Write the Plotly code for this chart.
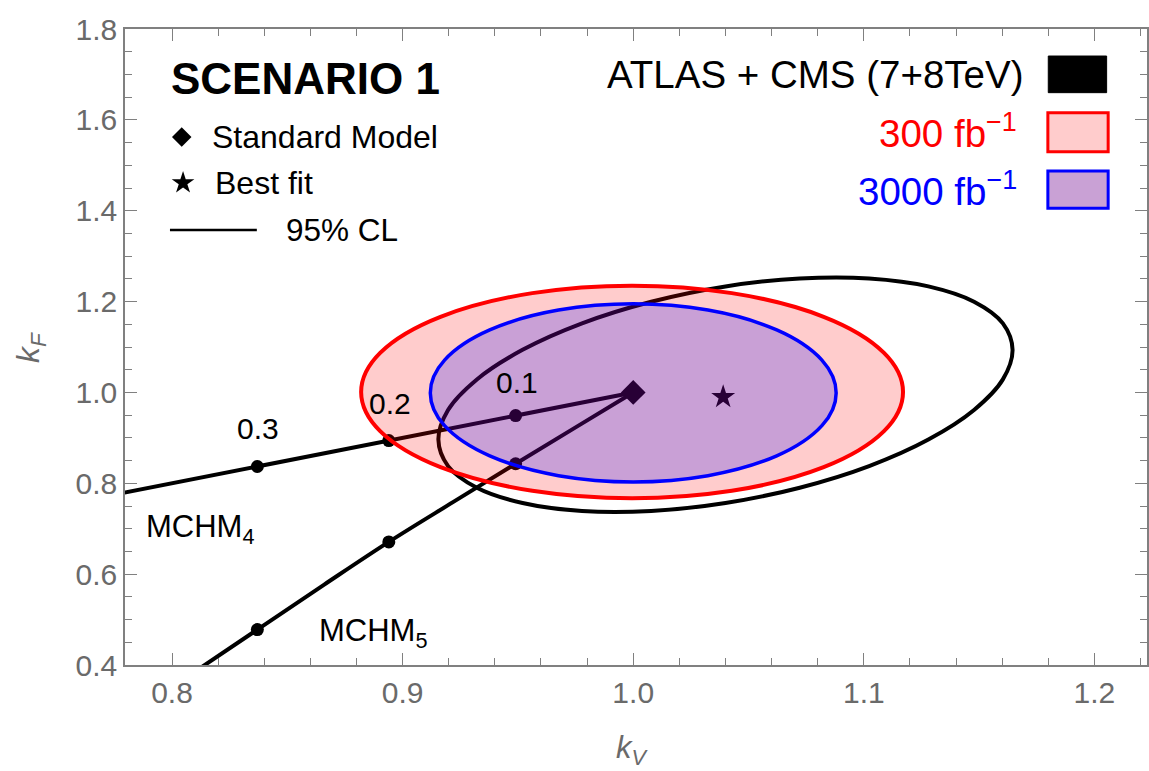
import plotly.graph_objects as go

# ---------------- data ----------------
# MCHM4 trajectory (kV, kF)
kv_mchm4 = [1.0, 0.949, 0.894, 0.837, 0.775]
kf_mchm4 = [1.0, 0.949, 0.894, 0.837, 0.775]
# MCHM5 trajectory (kV, kF)
kv_mchm5 = [1.0, 0.975, 0.949, 0.922, 0.894, 0.866, 0.837, 0.806]
kf_mchm5 = [1.0, 0.923, 0.843, 0.759, 0.671, 0.577, 0.478, 0.372]
# xi marker points
xi_labels = ["0.1", "0.2", "0.3"]
kv4_pts = [0.949, 0.894, 0.837]
kf4_pts = [0.949, 0.894, 0.837]
kv5_pts = [0.949, 0.894, 0.837]
kf5_pts = [0.843, 0.671, 0.478]
# Standard model and best fit
sm_kv, sm_kf = [1.0], [1.0]
best_kv, best_kf = [1.039], [0.990]
# ATLAS+CMS 95% CL contour
atlas_kv = [1.1645, 1.1603, 1.1478, 1.1280, 1.1023, 1.0722, 1.0400, 1.0078,
            0.9778, 0.9520, 0.9322, 0.9197, 0.9155, 0.9197, 0.9322, 0.9520,
            0.9778, 1.0078, 1.0400, 1.0722, 1.1023, 1.1280, 1.1478, 1.1603, 1.1645]
atlas_kf = [1.0938, 1.1521, 1.1998, 1.2335, 1.2509, 1.2509, 1.2334, 1.1997,
            1.1521, 1.0937, 1.0286, 0.9613, 0.8962, 0.8379, 0.7902, 0.7565,
            0.7391, 0.7391, 0.7566, 0.7903, 0.8379, 0.8963, 0.9614, 1.0287, 1.0938]
# projected 95% CL regions (kV extent, kF extent)
red_kv = [0.882, 1.117]
red_kf = [0.767, 1.235]
blue_kv = [0.912, 1.088]
blue_kf = [0.803, 1.195]

# axis ranges
x_range = [0.7796, 1.2228]
y_range = [0.4, 1.8]

FONT = "Liberation Sans, Arial, Helvetica, sans-serif"
GRAY = "#6a6a6a"
AXC = "#808080"

fig = go.Figure()

# MCHM lines
fig.add_trace(go.Scatter(x=kv_mchm4, y=kf_mchm4, mode="lines",
                         line=dict(color="black", width=4)))
fig.add_trace(go.Scatter(x=kv_mchm5, y=kf_mchm5, mode="lines",
                         line=dict(color="black", width=4, shape="spline")))
# ATLAS + CMS contour
fig.add_trace(go.Scatter(x=atlas_kv, y=atlas_kf, mode="lines",
                         line=dict(color="black", width=4, shape="spline")))
# xi points
fig.add_trace(go.Scatter(x=kv4_pts, y=kf4_pts, mode="markers",
                         marker=dict(color="black", size=13)))
fig.add_trace(go.Scatter(x=kv5_pts, y=kf5_pts, mode="markers",
                         marker=dict(color="black", size=13)))
# SM and best fit
fig.add_trace(go.Scatter(x=sm_kv, y=sm_kf, mode="markers",
                         marker=dict(color="black", size=19, symbol="diamond")))
fig.add_trace(go.Scatter(x=best_kv, y=best_kf, mode="markers",
                         marker=dict(color="black", size=18, symbol="star")))

# projected regions, drawn above (translucent) like the original
fig.add_shape(type="circle", xref="x", yref="y",
              x0=red_kv[0], x1=red_kv[1], y0=red_kf[0], y1=red_kf[1],
              fillcolor="rgba(255,0,0,0.2)", line=dict(color="#ff0000", width=4),
              layer="above")
fig.add_shape(type="circle", xref="x", yref="y",
              x0=blue_kv[0], x1=blue_kv[1], y0=blue_kf[0], y1=blue_kf[1],
              fillcolor="rgba(0,0,255,0.21)", line=dict(color="#0000ff", width=3.5),
              layer="above")

# legend (upper-left) on an overlay axis in plot-fraction units
fig.add_trace(go.Scatter(x=[0.0555], y=[0.830], mode="markers", xaxis="x2", yaxis="y2",
                         marker=dict(color="black", size=15, symbol="diamond")))
fig.add_trace(go.Scatter(x=[0.0568], y=[0.758], mode="markers", xaxis="x2", yaxis="y2",
                         marker=dict(color="black", size=17, symbol="star")))
fig.add_trace(go.Scatter(x=[0.044, 0.129], y=[0.684, 0.684], mode="lines", xaxis="x2", yaxis="y2",
                         line=dict(color="black", width=2.5)))

ann = []
def A(text, x, y, size, color="black", xanchor="center", xref="x", yref="y", yanchor="middle",
      textangle=0):
    ann.append(dict(text=text, x=x, y=y, xref=xref, yref=yref, showarrow=False,
                    xanchor=xanchor, yanchor=yanchor, textangle=textangle,
                    font=dict(family=FONT, size=size, color=color)))

A("<b>SCENARIO 1</b>", 0.0430, 0.9225, 44, xanchor="left", xref="paper", yref="paper")
A("Standard Model", 0.0835, 0.830, 32, xanchor="left", xref="paper", yref="paper")
A("Best fit", 0.0865, 0.758, 32, xanchor="left", xref="paper", yref="paper")
A("95% CL", 0.1560, 0.684, 31.5, xanchor="left", xref="paper", yref="paper")

A("ATLAS + CMS (7+8TeV)", 0.8820, 0.9277, 38.5, xanchor="right", xref="paper", yref="paper")
A("300 fb<sup>−1</sup>", 0.8750, 0.840, 38.5, color="#ff0000", xanchor="right", xref="paper", yref="paper")
A("3000 fb<sup>−1</sup>", 0.8750, 0.749, 38.5, color="#0000ff", xanchor="right", xref="paper", yref="paper")

# xi labels
A(xi_labels[0], 0.9495, 1.0226, 30)
A(xi_labels[1], 0.8945, 0.975, 30)
A(xi_labels[2], 0.8374, 0.920, 30)
A("MCHM<sub>4</sub>", 0.7880, 0.700, 31, xanchor="left")
A("MCHM<sub>5</sub>", 0.8628, 0.470, 31, xanchor="left")

# axis titles
A("<i>k<sub>V</sub></i>", 0.4965, -0.1340, 31, color=GRAY, xref="paper", yref="paper")
A("<i>k<sub>F</sub></i>", -0.0930, 0.5, 32, color=GRAY, xref="paper", yref="paper", textangle=-90)

fig.update_layout(annotations=ann)

# legend boxes (upper-right)
fig.add_shape(type="rect", xref="paper", yref="paper", x0=0.9034, x1=0.9605, y0=0.8999, y1=0.9575,
              fillcolor="black", line=dict(color="black", width=1))
fig.add_shape(type="rect", xref="paper", yref="paper", x0=0.9030, x1=0.9620, y0=0.8071, y1=0.8684,
              fillcolor="#ffcccc", line=dict(color="#ff0000", width=3))
fig.add_shape(type="rect", xref="paper", yref="paper", x0=0.9030, x1=0.9620, y0=0.7181, y1=0.7767,
              fillcolor="#c9a1d5", line=dict(color="#0000ff", width=3))

axis_common = dict(showgrid=False, zeroline=False, showline=True, linecolor=AXC, linewidth=1.5,
                   mirror="allticks", ticks="inside", ticklen=12, tickwidth=1.3, tickcolor=AXC,
                   tickfont=dict(family=FONT, size=30, color=GRAY), tickformat=".1f",
                   automargin=False)

fig.update_layout(
    width=1149, height=771,
    margin=dict(l=125, r=2, t=29, b=106, autoexpand=False),
    paper_bgcolor="white", plot_bgcolor="white",
    showlegend=False, hovermode=False,
    xaxis=dict(range=x_range, tick0=0.8, dtick=0.1,
               minor=dict(dtick=0.02, tick0=0.8, ticks="inside", ticklen=7, tickwidth=1.2, tickcolor=AXC),
               **axis_common),
    yaxis=dict(range=y_range, tick0=0.4, dtick=0.2,
               minor=dict(dtick=0.05, tick0=0.4, ticks="inside", ticklen=7, tickwidth=1.2, tickcolor=AXC),
               **axis_common),
    xaxis2=dict(overlaying="x", range=[0, 1], visible=False, fixedrange=True),
    yaxis2=dict(overlaying="y", range=[0, 1], visible=False, fixedrange=True),
)

fig.write_html("out.html", config={"displayModeBar": False},
               post_script="document.body.style.margin='0px';document.body.style.overflow='hidden';")
